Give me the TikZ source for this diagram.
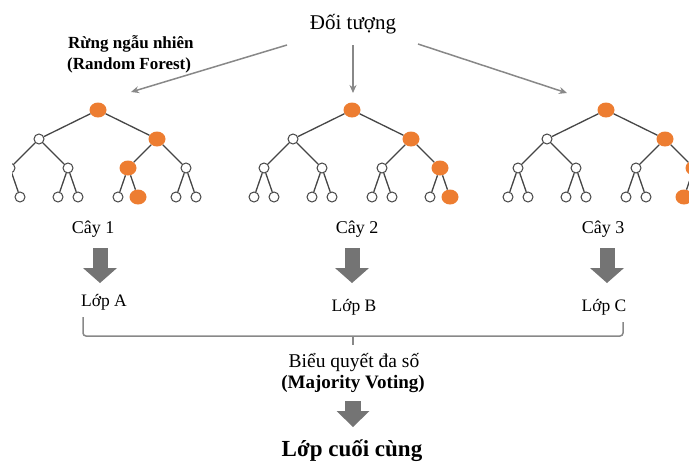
\documentclass[tikz,border=0pt]{standalone}
\usepackage{fontspec}
\setmainfont{Liberation Serif}
\usetikzlibrary{arrows.meta,shapes.geometric}
\definecolor{orng}{HTML}{ED7D31}
\definecolor{edgec}{HTML}{454545}
\definecolor{arrc}{HTML}{888888}
\definecolor{blkc}{HTML}{747474}
\tikzset{
  wn/.style={circle,draw=edgec,fill=white,line width=1pt,minimum size=10pt,inner sep=0pt},
  on/.style={ellipse,fill=orng,minimum width=17pt,minimum height=15pt,inner sep=0pt},
  nr/.style=wn, nL/.style=wn, nR/.style=wn,
  nLL/.style=wn, nLR/.style=wn, nRL/.style=wn, nRR/.style=wn,
  nLLL/.style=wn, nLLR/.style=wn, nLRL/.style=wn, nLRR/.style=wn,
  nRLL/.style=wn, nRLR/.style=wn, nRRL/.style=wn, nRRR/.style=wn,
  tedge/.style={draw=edgec,line width=1.3pt},
  thin arrow/.style={draw=arrc,line width=1.5pt,-{Stealth[length=8pt,width=7pt]}},
  blk/.style={draw=blkc,line width=15pt,-{Triangle[width=34pt,length=15pt,line width=0pt]}},
  blkfinal/.style={draw=blkc,line width=16pt,-{Triangle[width=33pt,length=16pt,line width=0pt]}},
  brk/.style={draw=arrc,line width=1.5pt,rounded corners=3pt},
  txt/.style={anchor=base,inner sep=0pt},
}
\newcommand\mktree[2]{%
  \node[nr]   (#1r)   at (#2,110) {};
  \node[nL]   (#1L)   at (#2-59,139) {};
  \node[nR]   (#1R)   at (#2+59,139) {};
  \node[nLL]  (#1LL)  at (#2-88,168) {};
  \node[nLR]  (#1LR)  at (#2-30,168) {};
  \node[nRL]  (#1RL)  at (#2+30,168) {};
  \node[nRR]  (#1RR)  at (#2+88,168) {};
  \node[nLLL] (#1LLL) at (#2-98,197) {};
  \node[nLLR] (#1LLR) at (#2-78,197) {};
  \node[nLRL] (#1LRL) at (#2-40,197) {};
  \node[nLRR] (#1LRR) at (#2-20,197) {};
  \node[nRLL] (#1RLL) at (#2+20,197) {};
  \node[nRLR] (#1RLR) at (#2+40,197) {};
  \node[nRRL] (#1RRL) at (#2+78,197) {};
  \node[nRRR] (#1RRR) at (#2+98,197) {};
  \draw[tedge] (#1r)--(#1L) (#1r)--(#1R)
    (#1L)--(#1LL) (#1L)--(#1LR) (#1R)--(#1RL) (#1R)--(#1RR)
    (#1LL)--(#1LLL) (#1LL)--(#1LLR) (#1LR)--(#1LRL) (#1LR)--(#1LRR)
    (#1RL)--(#1RLL) (#1RL)--(#1RLR) (#1RR)--(#1RRL) (#1RR)--(#1RRR);
}
\begin{document}
\begin{tikzpicture}[x=1pt,y=-1pt]
\useasboundingbox (0,0) rectangle (689,463);

% top label
\node[txt,font=\fontsize{21}{24}\selectfont] (obj) at (353,29) {Đối tượng};
\node[anchor=base west,inner sep=0pt,font=\bfseries\fontsize{17}{20}\selectfont] (rf1) at (68,48) {Rừng ngẫu nhiên};
\node[anchor=base west,inner sep=0pt,font=\bfseries\fontsize{17}{20}\selectfont] (rf2) at (67,69) {(Random Forest)};

% trees
\begin{scope}
  \clip (12,60) rectangle (689,215);
  \begin{scope}[nr/.style=on,nR/.style=on,nRL/.style=on,nRLR/.style=on]
    \mktree{a}{98}
  \end{scope}
\end{scope}
\begin{scope}[nr/.style=on,nR/.style=on,nRR/.style=on,nRRR/.style=on]
  \mktree{b}{352}
\end{scope}
\begin{scope}[nr/.style=on,nR/.style=on,nRR/.style=on,nRRL/.style=on]
  \mktree{c}{606}
\end{scope}

% arrows from object
\coordinate (s1) at (287,45);
\coordinate (s2) at (353,45);
\coordinate (s3) at (418,44);
\coordinate (e1) at (131,92);
\coordinate (e2) at (353,93);
\coordinate (e3) at (567,93);
\draw[thin arrow] (s1) -- (e1);
\draw[thin arrow] (s2) -- (e2);
\draw[thin arrow] (s3) -- (e3);

% tree labels
\node[txt,font=\fontsize{18}{21}\selectfont] (cay1) at (93,233) {Cây 1};
\node[txt,font=\fontsize{18}{21}\selectfont] (cay2) at (357,233) {Cây 2};
\node[txt,font=\fontsize{18}{21}\selectfont] (cay3) at (603,233) {Cây 3};

% block arrows
\coordinate (b1s) at (100,248); \coordinate (b1e) at (100,283);
\coordinate (b2s) at (352,248); \coordinate (b2e) at (352,283);
\coordinate (b3s) at (607,248); \coordinate (b3e) at (607,283);
\draw[blk] (b1s) -- (b1e);
\draw[blk] (b2s) -- (b2e);
\draw[blk] (b3s) -- (b3e);

% classes
\node[txt,font=\fontsize{17.5}{20}\selectfont] (lopA) at (104,306) {Lớp A};
\node[txt,font=\fontsize{17.5}{20}\selectfont] (lopB) at (354,311) {Lớp B};
\node[txt,font=\fontsize{17.5}{20}\selectfont] (lopC) at (604,311) {Lớp C};

% bracket
\coordinate (k1) at (83,317);
\coordinate (k2) at (83,336);
\coordinate (k3) at (623,336);
\coordinate (k4) at (623,322);
\coordinate (km) at (353,336);
\coordinate (kt) at (353,345);
\draw[brk] (k1) -- (k2) -- (k3) -- (k4);
\draw[draw=arrc,line width=1.5pt] (km) -- (kt);

% voting
\node[txt,font=\fontsize{19.5}{23}\selectfont] (vote1) at (354,367) {Biểu quyết đa số};
\node[txt,font=\bfseries\fontsize{19}{23}\selectfont] (vote2) at (353,388) {(Majority Voting)};

\coordinate (bfs) at (353,401); \coordinate (bfe) at (353,427);
\draw[blkfinal] (bfs) -- (bfe);

\node[txt,font=\bfseries\fontsize{23}{27}\selectfont] (final) at (352,456) {Lớp cuối cùng};
\end{tikzpicture}
\end{document}
